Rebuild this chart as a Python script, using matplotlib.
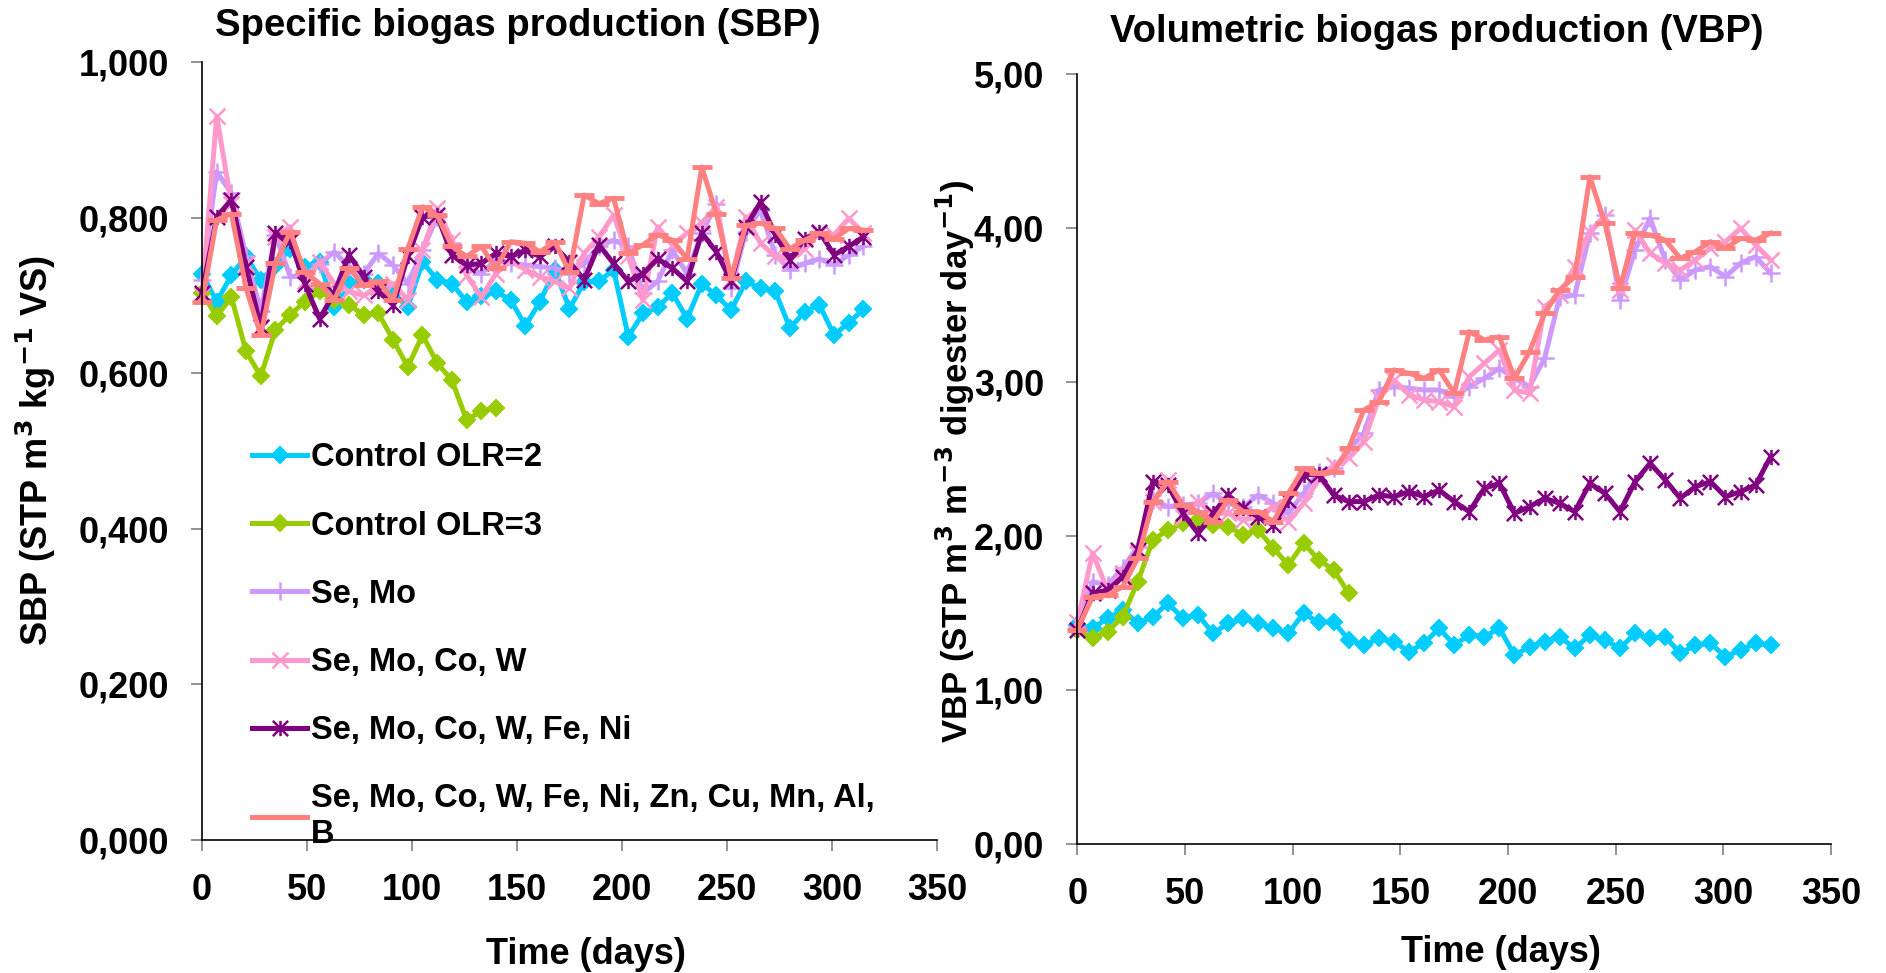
import matplotlib
matplotlib.use('Agg')
import matplotlib.pyplot as plt
from matplotlib.path import Path
from matplotlib.ticker import FuncFormatter, MultipleLocator

plt.rcParams['font.family'] = ['Liberation Sans', 'DejaVu Sans']
plt.rcParams['font.weight'] = 'bold'

# sampling days (weekly)
days_sbp = [0, 7, 14, 21, 28, 35, 42, 49, 56, 63, 70, 77, 84, 91, 98, 105, 112, 119, 126, 133,
            140, 147, 154, 161, 168, 175, 182, 189, 196, 203, 210, 217, 224, 231, 238, 245, 252,
            259, 266, 273, 280, 287, 294, 301, 308, 315]
days_vbp = days_sbp + [322]

labels = ['Control OLR=2', 'Control OLR=3', 'Se, Mo', 'Se, Mo, Co, W', 'Se, Mo, Co, W, Fe, Ni',
          'Se, Mo, Co, W, Fe, Ni, Zn, Cu, Mn, Al,\nB']

# Specific biogas production (m3 / kg VS)
sbp_ctrl2 = [0.728, 0.692, 0.726, 0.750, 0.720, 0.738, 0.760, 0.737, 0.743, 0.685,
             0.716, 0.720, 0.716, 0.703, 0.685, 0.743, 0.720, 0.715, 0.692, 0.699,
             0.705, 0.694, 0.661, 0.692, 0.733, 0.683, 0.717, 0.718, 0.733, 0.647,
             0.677, 0.685, 0.703, 0.670, 0.715, 0.700, 0.681, 0.718, 0.709, 0.705,
             0.658, 0.679, 0.688, 0.649, 0.665, 0.682]
sbp_ctrl3 = [0.703, 0.673, 0.698, 0.628, 0.596, 0.656, 0.675, 0.692, 0.705, 0.694,
             0.688, 0.675, 0.677, 0.643, 0.608, 0.649, 0.613, 0.591, 0.540, 0.551, 0.555]
sbp_semo = [0.720, 0.859, 0.831, 0.750, 0.680, 0.778, 0.724, 0.726, 0.740, 0.756,
            0.737, 0.728, 0.754, 0.739, 0.715, 0.758, 0.801, 0.767, 0.737, 0.728,
            0.746, 0.741, 0.739, 0.737, 0.735, 0.728, 0.741, 0.763, 0.771, 0.763,
            0.703, 0.718, 0.758, 0.728, 0.780, 0.818, 0.709, 0.782, 0.810, 0.752,
            0.733, 0.741, 0.747, 0.739, 0.752, 0.763]
sbp_semocow = [0.700, 0.930, 0.818, 0.740, 0.660, 0.775, 0.788, 0.718, 0.743, 0.715,
               0.705, 0.700, 0.711, 0.715, 0.694, 0.758, 0.812, 0.771, 0.726, 0.698,
               0.728, 0.745, 0.733, 0.724, 0.718, 0.709, 0.754, 0.775, 0.803, 0.750,
               0.694, 0.788, 0.765, 0.780, 0.793, 0.814, 0.720, 0.801, 0.767, 0.750,
               0.746, 0.760, 0.780, 0.778, 0.799, 0.780]
sbp_feni = [0.703, 0.801, 0.823, 0.737, 0.660, 0.780, 0.770, 0.715, 0.670, 0.703,
            0.752, 0.724, 0.705, 0.688, 0.750, 0.801, 0.803, 0.752, 0.739, 0.741,
            0.754, 0.750, 0.758, 0.750, 0.763, 0.743, 0.720, 0.765, 0.741, 0.718,
            0.728, 0.747, 0.735, 0.718, 0.780, 0.756, 0.718, 0.788, 0.820, 0.778,
            0.746, 0.773, 0.782, 0.752, 0.763, 0.775]
sbp_all = [0.692, 0.797, 0.805, 0.709, 0.649, 0.741, 0.782, 0.730, 0.715, 0.694,
           0.735, 0.713, 0.718, 0.694, 0.760, 0.814, 0.803, 0.763, 0.750, 0.763,
           0.735, 0.769, 0.767, 0.756, 0.769, 0.730, 0.829, 0.818, 0.825, 0.754,
           0.765, 0.778, 0.771, 0.747, 0.865, 0.805, 0.722, 0.790, 0.793, 0.786,
           0.760, 0.771, 0.780, 0.773, 0.786, 0.784]

# Volumetric biogas production (m3 / m3 digester / day)
vbp_ctrl2 = [1.420, 1.399, 1.464, 1.518, 1.431, 1.474, 1.561, 1.464, 1.485, 1.366,
             1.431, 1.464, 1.431, 1.399, 1.366, 1.496, 1.437, 1.442, 1.323, 1.290,
             1.334, 1.312, 1.247, 1.301, 1.399, 1.290, 1.355, 1.344, 1.399, 1.225,
             1.279, 1.312, 1.344, 1.268, 1.355, 1.323, 1.269, 1.366, 1.334, 1.344,
             1.236, 1.290, 1.301, 1.214, 1.258, 1.301, 1.290]
vbp_ctrl3 = [1.388, 1.334, 1.377, 1.474, 1.701, 1.972, 2.037, 2.080, 2.102, 2.069,
             2.058, 2.005, 2.037, 1.918, 1.810, 1.951, 1.845, 1.777, 1.626]
vbp_semo = [1.409, 1.701, 1.680, 1.788, 1.929, 2.232, 2.188, 2.199, 2.210, 2.275,
            2.210, 2.188, 2.264, 2.210, 2.145, 2.275, 2.416, 2.437, 2.556, 2.665,
            2.946, 2.968, 2.957, 2.946, 2.946, 2.903, 2.968, 3.022, 3.087, 3.022,
            2.968, 3.152, 3.552, 3.563, 3.964, 4.082, 3.531, 3.855, 4.061, 3.790,
            3.660, 3.725, 3.747, 3.682, 3.769, 3.812, 3.704]
vbp_semocow = [1.440, 1.886, 1.647, 1.756, 1.886, 2.221, 2.362, 2.123, 2.221, 2.145,
               2.145, 2.102, 2.123, 2.188, 2.091, 2.210, 2.362, 2.459, 2.502, 2.610,
               2.892, 3.011, 2.914, 2.881, 2.870, 2.838, 3.032, 3.119, 3.206, 2.946,
               2.925, 3.487, 3.563, 3.747, 3.974, 4.071, 3.595, 3.985, 3.834, 3.769,
               3.725, 3.790, 3.866, 3.909, 3.996, 3.888, 3.790]
vbp_feni = [1.390, 1.626, 1.647, 1.734, 1.907, 2.351, 2.329, 2.145, 2.015, 2.145,
            2.264, 2.178, 2.123, 2.069, 2.232, 2.394, 2.400, 2.264, 2.221, 2.221,
            2.264, 2.253, 2.286, 2.253, 2.297, 2.221, 2.156, 2.308, 2.340, 2.145,
            2.188, 2.243, 2.210, 2.156, 2.340, 2.275, 2.156, 2.351, 2.470, 2.362,
            2.243, 2.318, 2.351, 2.253, 2.286, 2.329, 2.513]
vbp_all = [1.390, 1.604, 1.615, 1.669, 1.853, 2.221, 2.351, 2.199, 2.156, 2.091,
           2.232, 2.156, 2.156, 2.091, 2.275, 2.437, 2.405, 2.416, 2.567, 2.816,
           2.870, 3.076, 3.054, 3.022, 3.076, 2.925, 3.325, 3.271, 3.292, 3.022,
           3.195, 3.444, 3.596, 3.682, 4.331, 4.028, 3.606, 3.964, 3.953, 3.920,
           3.801, 3.844, 3.909, 3.866, 3.931, 3.920, 3.964]

# Excel-like star marker: an x with a vertical stroke
star = Path([(0, -1), (0, 1), (-1, -1), (1, 1), (-1, 1), (1, -1)],
            [Path.MOVETO, Path.LINETO] * 3)

styles = [
    dict(color='#00CCFF', marker='D', ms=8.5, mew=1.5),
    dict(color='#99CC00', marker='D', ms=8.5, mew=1.5),
    dict(color='#CC99FF', marker='+', ms=13, mew=1.8),
    dict(color='#FF99CC', marker='x', ms=11, mew=1.8),
    dict(color='#800080', marker=star, ms=11, mew=1.8),
    dict(color='#FF8080', marker='_', ms=15, mew=3.5),
]

fig = plt.figure(figsize=(18.86, 9.73), dpi=100)
ax1 = fig.add_axes([0.1071, 0.1367, 0.3897, 0.7996])
ax2 = fig.add_axes([0.5713, 0.1329, 0.3995, 0.7914])

sbp_series = [(days_sbp, sbp_ctrl2), (days_sbp[:len(sbp_ctrl3)], sbp_ctrl3), (days_sbp, sbp_semo),
              (days_sbp, sbp_semocow), (days_sbp, sbp_feni), (days_sbp, sbp_all)]
vbp_series = [(days_vbp, vbp_ctrl2), (days_vbp[:len(vbp_ctrl3)], vbp_ctrl3), (days_vbp, vbp_semo),
              (days_vbp, vbp_semocow), (days_vbp, vbp_feni), (days_vbp, vbp_all)]

for (x, y), lab, st in zip(sbp_series, labels, styles):
    ax1.plot(x, y, lw=3.6, label=lab, clip_on=False, **st)
for (x, y), st in zip(vbp_series, styles):
    ax2.plot(x, y, lw=3.6, clip_on=False, **st)

ax1.set_ylim(0, 1.0)
ax1.yaxis.set_major_locator(MultipleLocator(0.2))
ax1.yaxis.set_major_formatter(FuncFormatter(lambda v, p: f'{v:.3f}'.replace('.', ',')))
ax2.set_ylim(0, 5.0)
ax2.yaxis.set_major_locator(MultipleLocator(1.0))
ax2.yaxis.set_major_formatter(FuncFormatter(lambda v, p: f'{v:.2f}'.replace('.', ',')))

for ax in (ax1, ax2):
    ax.set_xlim(0, 350)
    ax.xaxis.set_major_locator(MultipleLocator(50))
    ax.spines['top'].set_visible(False)
    ax.spines['right'].set_visible(False)
    ax.spines['left'].set_linewidth(1.2)
    ax.spines['bottom'].set_linewidth(1.2)
    ax.tick_params(axis='both', direction='out', length=8, width=1.2, color='#808080',
                   labelsize=26, pad=16)

ax1.legend(loc='upper left', bbox_to_anchor=(0.068, 0.511), frameon=False, fontsize=23.5,
           handlelength=1.7, handletextpad=0.1, labelspacing=1.14, borderpad=0,
           borderaxespad=0)

fig.text(518 / 1886, 1 - 26 / 973, 'Specific biogas production (SBP)', fontsize=27.5,
         ha='center', va='center')
fig.text(1437 / 1886, 1 - 32 / 973, 'Volumetric biogas production (VBP)', fontsize=27.5,
         ha='center', va='center')
fig.text(586 / 1886, 1 - 955 / 973, 'Time (days)', fontsize=26, ha='center', va='center')
fig.text(1501 / 1886, 1 - 952 / 973, 'Time (days)', fontsize=26, ha='center', va='center')
fig.text(36 / 1886, 1 - 451 / 973, 'SBP (STP m$^{\\mathbf{3}}$ kg$^{\\mathbf{-1}}$ VS)',
         fontsize=26, rotation=90, ha='center', va='center')
fig.text(955 / 1886, 1 - 461 / 973,
         'VBP (STP m$^{\\mathbf{3}}$ m$^{\\mathbf{-3}}$ digester day$^{\\mathbf{-1}}$)',
         fontsize=25, rotation=90, ha='center', va='center')

fig.savefig('out.png', dpi=100)
